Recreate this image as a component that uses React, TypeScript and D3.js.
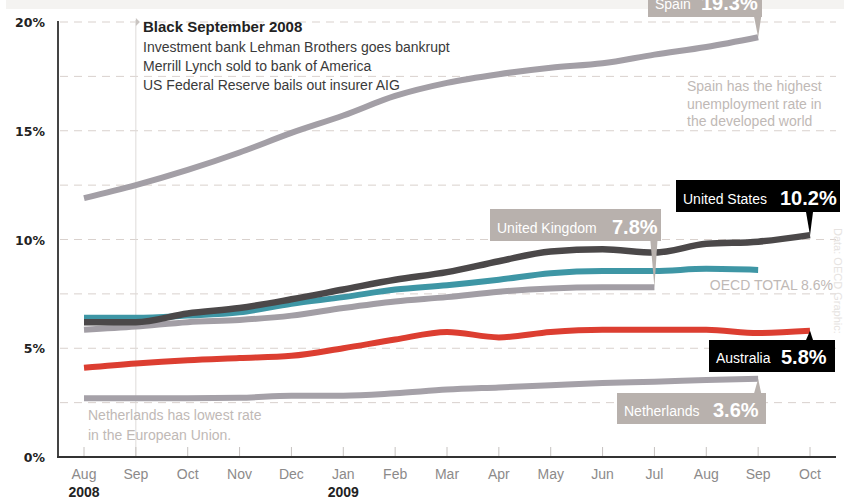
import React from "react";
import * as d3 from "d3";

// months Aug 2008 .. Oct 2009
const months = ["Aug", "Sep", "Oct", "Nov", "Dec", "Jan", "Feb", "Mar", "Apr", "May", "Jun", "Jul", "Aug", "Sep", "Oct"];
const years = ["2008", "", "", "", "", "2009", "", "", "", "", "", "", "", "", ""];
const yTicks = [0, 5, 10, 15, 20];
const gridTicks = [2.5, 5, 7.5, 10, 12.5, 15, 17.5, 20];

const spain = [11.9, 12.5, 13.2, 14.0, 14.9, 15.7, 16.6, 17.2, 17.6, 17.9, 18.1, 18.5, 18.85, 19.3];
const unitedStates = [6.2, 6.2, 6.6, 6.85, 7.25, 7.7, 8.15, 8.5, 9.0, 9.45, 9.55, 9.4, 9.8, 9.9, 10.2];
const oecdTotal = [6.4, 6.4, 6.5, 6.65, 7.05, 7.35, 7.7, 7.9, 8.15, 8.45, 8.55, 8.55, 8.65, 8.6];
const unitedKingdom = [5.85, 6.0, 6.2, 6.3, 6.5, 6.85, 7.15, 7.35, 7.6, 7.75, 7.8, 7.8];
const australia = [4.1, 4.3, 4.45, 4.55, 4.65, 5.0, 5.4, 5.75, 5.5, 5.75, 5.85, 5.85, 5.85, 5.7, 5.8];
const netherlands = [2.7, 2.7, 2.7, 2.72, 2.82, 2.82, 2.93, 3.1, 3.2, 3.3, 3.4, 3.46, 3.54, 3.6];

const W = 844;
const H = 501;
const narrow = "'Liberation Sans', Arial, sans-serif";
const calloutGrey = "#b8b1ad";
const noteGrey = "#bfb9b6";

const x = d3.scalePoint<number>().domain(d3.range(months.length)).range([84, 810]);
const y = d3.scaleLinear().domain([0, 20]).range([457, 22]);

const line = d3
  .line<number>()
  .x((d, i) => x(i) as number)
  .y((d) => y(d))
  .curve(d3.curveMonotoneX);

const series = [
  { name: "Netherlands", values: netherlands, color: "#a5a1a8", width: 6 },
  { name: "Australia", values: australia, color: "#dc3e31", width: 6 },
  { name: "Spain", values: spain, color: "#a39fa6", width: 6 },
  { name: "United Kingdom", values: unitedKingdom, color: "#a29ea5", width: 6 },
  { name: "OECD", values: oecdTotal, color: "#3e96a5", width: 6 },
  { name: "United States", values: unitedStates, color: "#4b4849", width: 6.5 },
];

// callout boxes: label, value, box and which data point they point to
const callouts = [
  { label: "Spain", value: "19.3%", values: spain, box: [648, -20, 762, 17], fill: calloutGrey, valueX: 701, base: 9 },
  { label: "United States", value: "10.2%", values: unitedStates, box: [676, 180, 840, 212], fill: "#000", valueX: 780, base: 204 },
  { label: "United Kingdom", value: "7.8%", values: unitedKingdom, box: [490, 209, 661, 241], fill: calloutGrey, valueX: 612, base: 233 },
  { label: "Australia", value: "5.8%", values: australia, box: [709, 340, 835, 372], fill: "#000", valueX: 781, base: 363 },
  { label: "Netherlands", value: "3.6%", values: netherlands, box: [617, 393, 766, 424], fill: calloutGrey, valueX: 713, base: 416 },
];

const blackSeptember = [
  "Investment bank Lehman Brothers goes bankrupt",
  "Merrill Lynch sold to bank of America",
  "US Federal Reserve bails out insurer AIG",
];
const spainNote = ["Spain has the highest", "unemployment rate in", "the developed world"];
const netherlandsNote = ["Netherlands has lowest rate", "in the European Union."];

export default function App() {
  const sepX = x(1) as number;
  return (
    <svg width={W} height={H} style={{ position: "absolute", left: 0, top: 0, background: "#fff" }}>
      <rect x={6} y={0} width={W - 6} height={9} fill="#f4f3f1" />

      {/* dashed grid */}
      {gridTicks.map((t) => (
        <line key={t} x1={60} x2={836} y1={y(t)} y2={y(t)} stroke="#d9d1cd" strokeDasharray="8,6" strokeWidth={1} />
      ))}

      {/* Black September marker */}
      <line x1={sepX} x2={sepX} y1={20} y2={457} stroke="#dedbd9" strokeWidth={1} />
      <path d={`M${sepX},${y(20) - 4}L${sepX + 4},${y(20)}L${sepX},${y(20) + 4}Z`} fill="#c9c4c1" />

      {/* month ticks */}
      {months.map((m, i) => (
        <line key={"t" + i} x1={x(i)} x2={x(i)} y1={447} y2={457} stroke="#c6c2c0" strokeWidth={1} />
      ))}

      {/* axes */}
      <line x1={58} x2={58} y1={21} y2={458} stroke="#444" strokeWidth={2} />
      <line x1={57} x2={836} y1={457} y2={457} stroke="#333" strokeWidth={2} />

      {yTicks.map((t) => (
        <text key={t} x={45} y={y(t) + 5} textAnchor="end" fontFamily="'DejaVu Sans', sans-serif" fontWeight="bold" fontSize={12.5} fill="#222">
          {t}%
        </text>
      ))}

      {months.map((m, i) => (
        <text key={"m" + i} x={x(i)} y={479} textAnchor="middle" fontFamily={narrow} fontSize={14} fill="#8c8a8a">
          {m}
        </text>
      ))}
      {years.map((yr, i) =>
        yr ? (
          <text key={"y" + i} x={x(i)} y={497} textAnchor="middle" fontFamily={narrow} fontWeight="bold" fontSize={14} fill="#222">
            {yr}
          </text>
        ) : null
      )}

      {/* series */}
      {series.map((s) => (
        <path key={s.name} d={line(s.values) || ""} fill="none" stroke={s.color} strokeWidth={s.width} strokeLinejoin="round" />
      ))}

      {/* callouts */}
      {callouts.map((c) => {
        const i = c.values.length - 1;
        const px = x(i) as number;
        const py = y(c.values[i]);
        const [x0, y0, x1, y1] = c.box;
        const baseY = py > y1 ? y1 : y0;
        return (
          <g key={c.label}>
            <rect x={x0} y={y0} width={x1 - x0} height={y1 - y0} fill={c.fill} />
            <path d={`M${px - 4},${baseY}L${px + 3},${baseY}L${px},${py}Z`} fill={c.fill} />
            <text x={x0 + 7} y={c.base} fontFamily={narrow} fontSize={14} fill="#fff">
              {c.label}
            </text>
            <text x={c.valueX} y={c.base + 1} fontFamily={narrow} fontWeight="bold" fontSize={20} fill="#fff">
              {c.value}
            </text>
          </g>
        );
      })}

      {/* annotations */}
      <text x={143} y={32} fontFamily={narrow} fontWeight="bold" fontSize={15} fill="#222">
        Black September 2008
      </text>
      {blackSeptember.map((t, i) => (
        <text key={t} x={143} y={52 + i * 19} fontFamily={narrow} fontSize={14} fill="#3a3a3a">
          {t}
        </text>
      ))}
      {spainNote.map((t, i) => (
        <text key={t} x={687} y={91 + i * 17.5} fontFamily={narrow} fontSize={14} fill={noteGrey}>
          {t}
        </text>
      ))}
      {netherlandsNote.map((t, i) => (
        <text key={t} x={88} y={420 + i * 20} fontFamily={narrow} fontSize={14} fill={noteGrey}>
          {t}
        </text>
      ))}
      <text x={833} y={290} textAnchor="end" fontFamily={narrow} fontSize={14} fill={noteGrey}>
        OECD TOTAL 8.6%
      </text>
      <text transform="translate(834,228) rotate(90)" fontFamily={narrow} fontSize={11} fill="#e6e3e1">
        Data: OECD     Graphic:
      </text>
    </svg>
  );
}
